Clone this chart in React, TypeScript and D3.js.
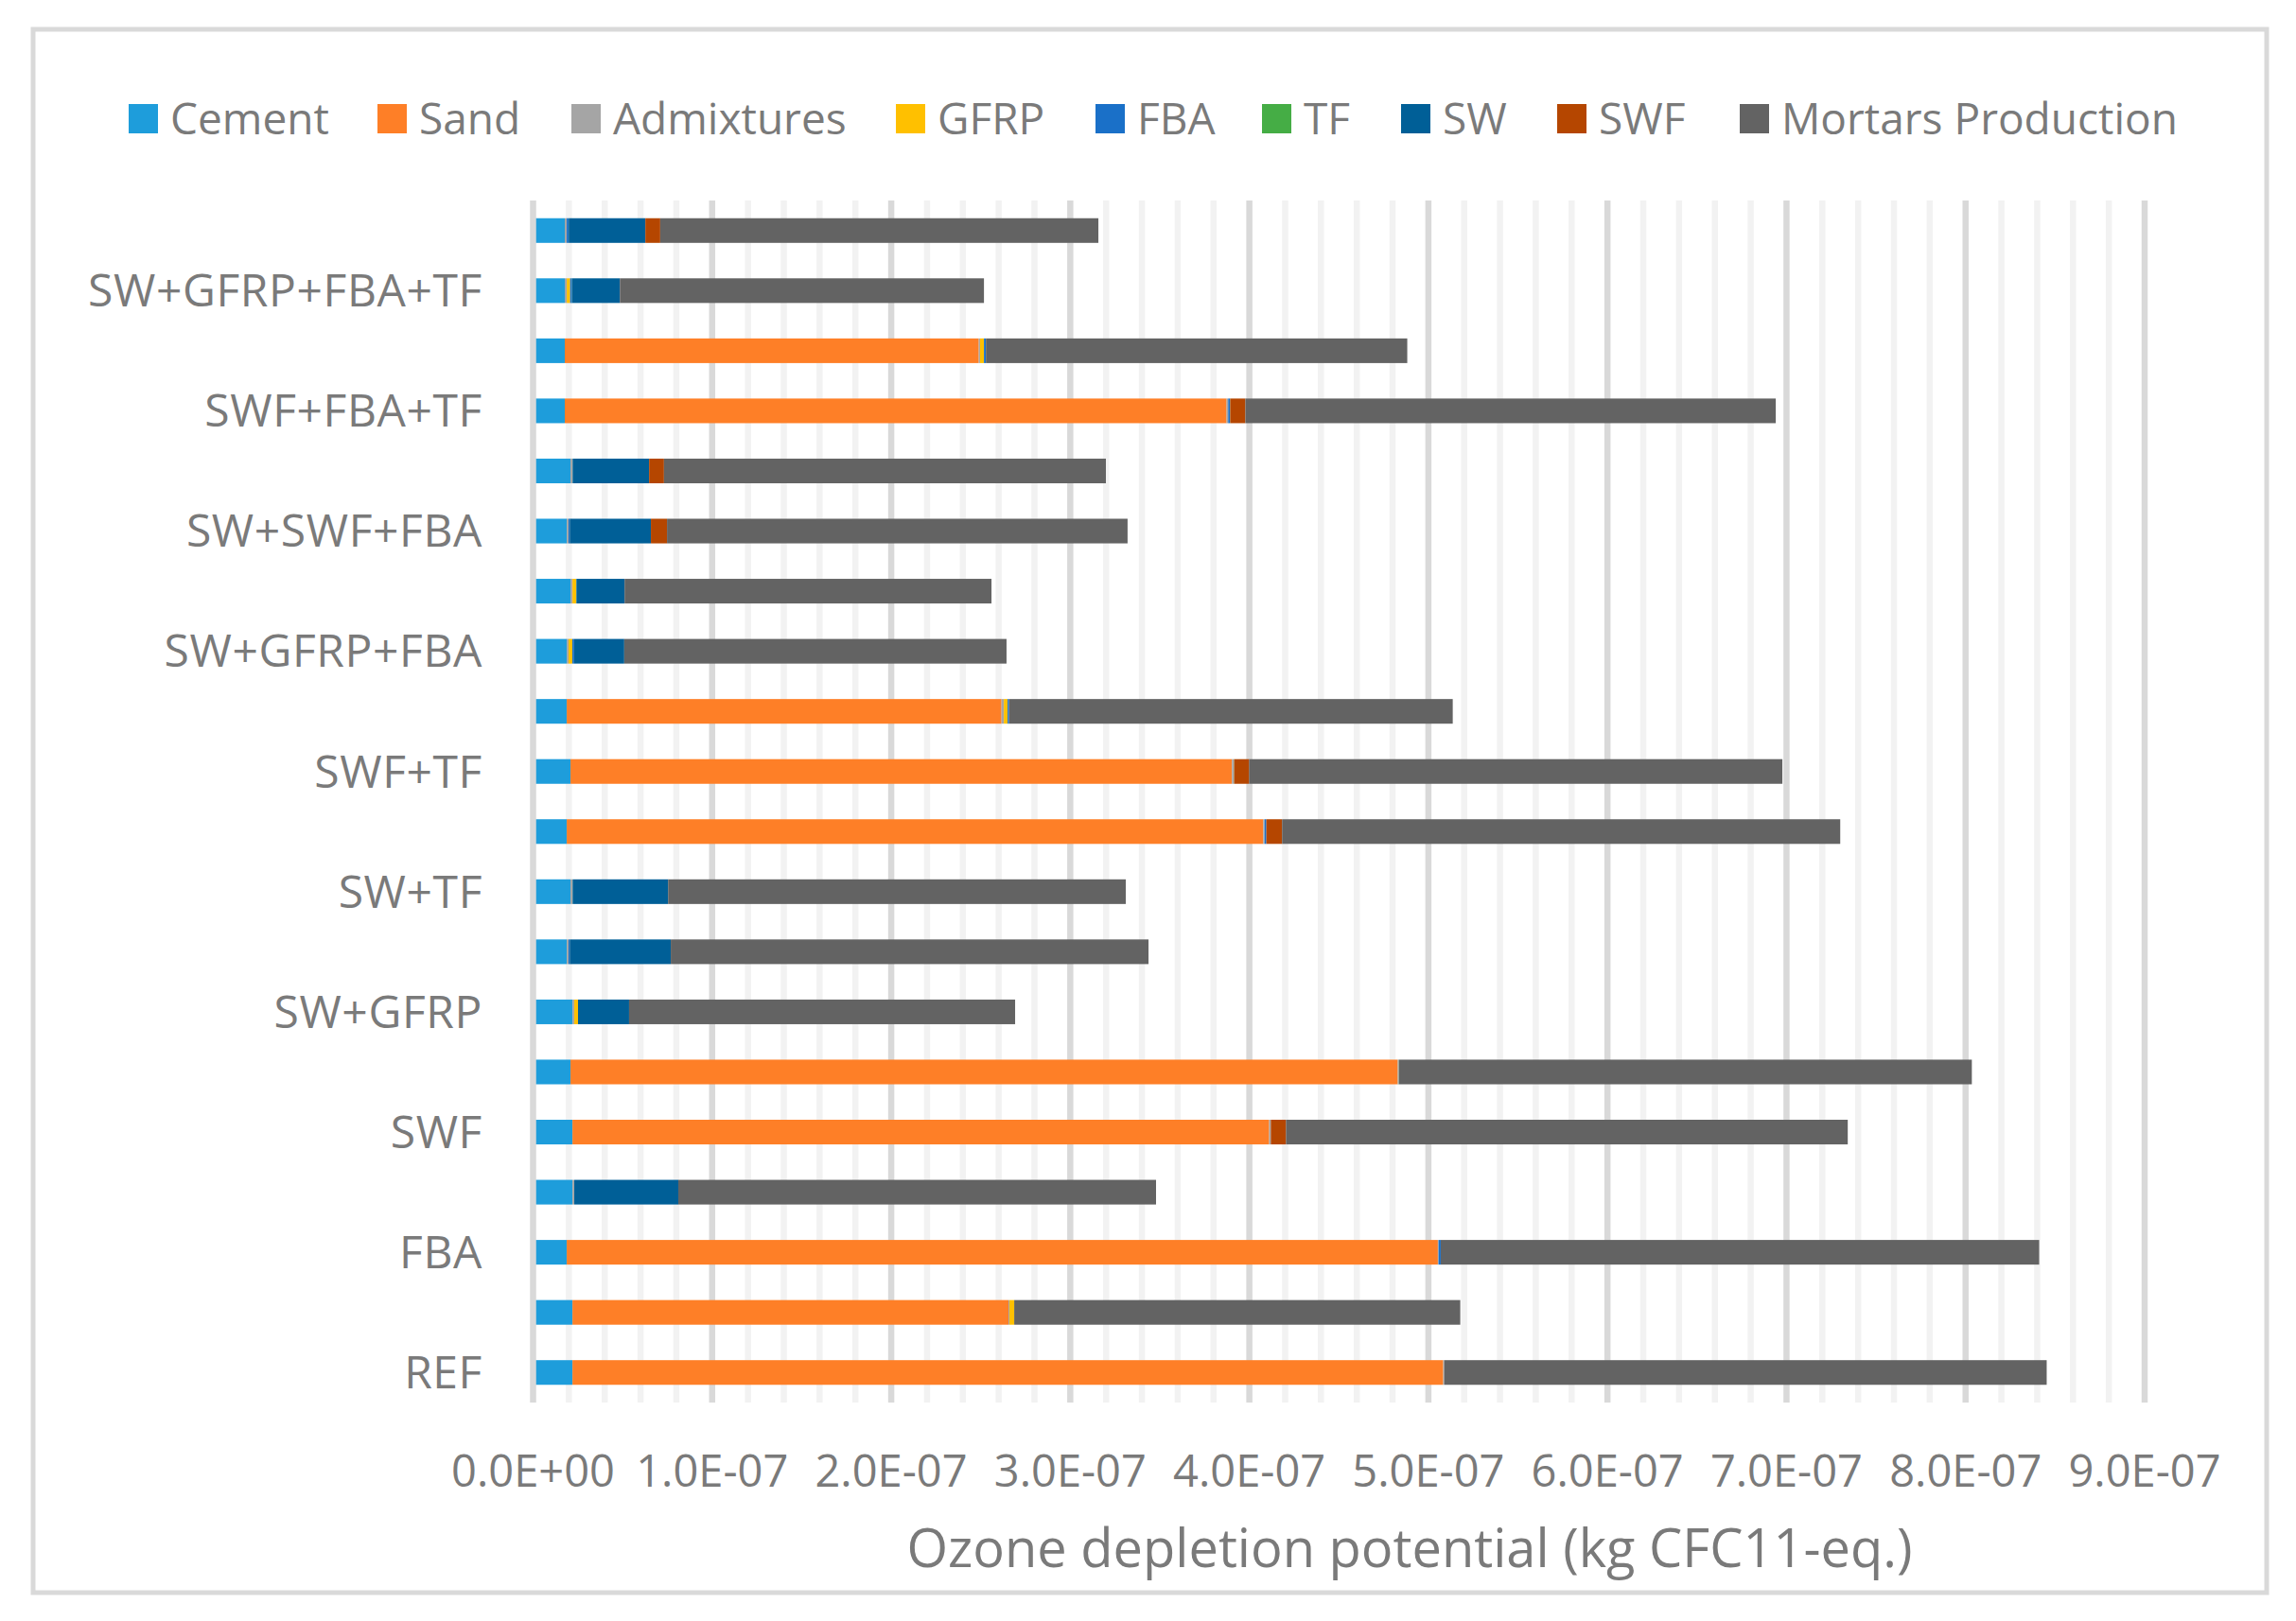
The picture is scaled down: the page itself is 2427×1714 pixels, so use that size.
import React from 'react';
import * as d3 from 'd3';

// values are read in units of 1E-07 kg CFC11-eq., bottom bar first
const UNIT = 1e-7;

const categories = [
  'REF', 'GFRP', 'FBA', 'SW', 'SWF', 'TF', 'SW+GFRP', 'SW+FBA', 'SW+TF', 'SWF+FBA',
  'SWF+TF', 'GFRP+FBA', 'SW+GFRP+FBA', 'SW+GFRP+TF', 'SW+SWF+FBA', 'SW+SWF+TF',
  'SWF+FBA+TF', 'GFRP+FBA+TF', 'SW+GFRP+FBA+TF', 'SW+SWF+FBA+TF',
];

const cement = [0.220, 0.220, 0.188, 0.220, 0.220, 0.209, 0.220, 0.188, 0.209, 0.188, 0.209, 0.188, 0.188, 0.209, 0.188, 0.209, 0.177, 0.177, 0.177, 0.177];
const sand = [4.863, 2.435, 4.865, 0, 3.891, 4.620, 0, 0, 0, 3.890, 3.694, 2.428, 0, 0, 0, 0, 3.696, 2.312, 0, 0];
const admixtures = [0.005, 0.005, 0.004, 0.010, 0.009, 0.005, 0.010, 0.010, 0.011, 0.007, 0.011, 0.013, 0.010, 0.011, 0.010, 0.011, 0.009, 0.007, 0.011, 0.011];
const gfrp = [0, 0.027, 0, 0, 0, 0, 0.021, 0, 0, 0, 0, 0.021, 0.021, 0.021, 0, 0, 0, 0.022, 0.019, 0];
const fba = [0, 0, 0.012, 0, 0, 0, 0, 0.007, 0, 0.010, 0, 0.008, 0.010, 0, 0.007, 0, 0.010, 0.010, 0.009, 0.010];
const tf = [0, 0, 0, 0, 0, 0.001, 0, 0, 0.001, 0, 0.001, 0, 0, 0.001, 0, 0.001, 0.001, 0.001, 0.001, 0.001];
const sw = [0, 0, 0, 0.581, 0, 0, 0.285, 0.564, 0.533, 0, 0, 0, 0.280, 0.269, 0.453, 0.427, 0, 0, 0.268, 0.428];
const swf = [0, 0, 0, 0, 0.085, 0, 0, 0, 0, 0.088, 0.084, 0, 0, 0, 0.090, 0.083, 0.085, 0, 0, 0.083];
const mortars = [3.365, 2.491, 3.342, 2.668, 3.137, 3.200, 2.156, 2.668, 2.556, 3.117, 2.978, 2.478, 2.135, 2.049, 2.572, 2.468, 2.962, 2.353, 2.033, 2.447];

const seriesNames = ['Cement', 'Sand', 'Admixtures', 'GFRP', 'FBA', 'TF', 'SW', 'SWF', 'Mortars Production'];
const seriesValues = [cement, sand, admixtures, gfrp, fba, tf, sw, swf, mortars];
const seriesColors = ['#1e9ddb', '#fe7f27', '#a5a5a5', '#ffc000', '#1a70c8', '#45ad45', '#005f97', '#b54600', '#636363'];

const xTicks = [0, 1, 2, 3, 4, 5, 6, 7, 8, 9];

const legendX = [136, 399, 604, 947, 1158, 1334, 1481, 1646, 1839];

const W = 2427;
const H = 1714;
const plot = { left: 563.5, right: 2267, top: 212, bottom: 1483 };
const FONT = '"Open Sans", "Noto Sans", sans-serif';
const TEXT = '#7a7a7a';

const fmtExp = (v: number) => {
  const [m, e] = v.toExponential(1).split('e');
  const sign = e.startsWith('-') ? '-' : '+';
  const n = Math.abs(parseInt(e, 10)).toString().padStart(2, '0');
  return `${m}E${sign}${n}`;
};

const App: React.FC = () => {
  const rows = categories.map((c, i) => {
    const r: { [k: string]: any } = { category: c };
    seriesNames.forEach((s, j) => { r[s] = seriesValues[j][i] * UNIT; });
    return r;
  });

  const stacked = d3.stack<any>().keys(seriesNames)(rows);

  const x = d3.scaleLinear().domain([0, 9 * UNIT]).range([plot.left, plot.right]);
  const y = d3.scaleBand<string>()
    .domain([...categories].reverse())
    .range([plot.top, plot.bottom])
    .paddingInner(0.59)
    .paddingOuter(0.295);

  const minor = d3.range(0, 45).map(i => i * 0.2 * UNIT).filter((_, i) => i % 5 !== 0);
  const major = xTicks.slice(1).map(t => t * UNIT);

  return (
    <svg width={W} height={H} style={{ position: 'absolute', left: 0, top: 0, display: 'block' }}
      fontFamily={FONT}>
      <rect x={0} y={0} width={W} height={H} fill="#fff" />
      <rect x={35} y={31} width={2361} height={1653} fill="#fff" stroke="#d9d9d9" strokeWidth={5} />

      {/* legend */}
      <g>
        {seriesNames.map((s, i) => (
          <g key={s} transform={`translate(${legendX[i]},110)`}>
            <rect width={31} height={31} fill={seriesColors[i]} />
            <text x={44} y={15.5} dy="0.35em" fontSize={46} fill={TEXT}>{s}</text>
          </g>
        ))}
      </g>

      {/* gridlines */}
      <g>
        {minor.map(v => (
          <line key={'m' + v} x1={x(v)} x2={x(v)} y1={plot.top} y2={plot.bottom} stroke="#f2f2f2" strokeWidth={6.5} />
        ))}
        {major.map(v => (
          <line key={'M' + v} x1={x(v)} x2={x(v)} y1={plot.top} y2={plot.bottom} stroke="#d9d9d9" strokeWidth={6.5} />
        ))}
      </g>

      {/* stacked bars */}
      <g>
        {stacked.map((layer, j) => (
          <g key={layer.key} fill={seriesColors[j]}>
            {layer.map((d, i) => (
              <rect key={i}
                x={x(d[0])}
                y={y(categories[i])}
                width={Math.max(0, x(d[1]) - x(d[0]))}
                height={y.bandwidth()} />
            ))}
          </g>
        ))}
      </g>

      {/* vertical axis line */}
      <line x1={x(0)} x2={x(0)} y1={plot.top} y2={plot.bottom} stroke="#d9d9d9" strokeWidth={6.5} />

      {/* category labels, every second one as in the source */}
      <g fontSize={48} fill={TEXT} textAnchor="end">
        {categories.map((c, i) => i % 2 === 0 ? (
          <text key={c} x={510} y={(y(c) || 0) + y.bandwidth() / 2} dy="0.35em" letterSpacing={0.6}>{c}</text>
        ) : null)}
      </g>

      {/* value axis labels */}
      <g fontSize={47} fill={TEXT} textAnchor="middle">
        {xTicks.map(t => (
          <text key={t} x={x(t * UNIT)} y={1572}>{fmtExp(t * UNIT)}</text>
        ))}
      </g>

      <text x={1490} y={1657} fontSize={56} fill={TEXT} textAnchor="middle">
        Ozone depletion potential (kg CFC11-eq.)
      </text>
    </svg>
  );
};

export default App;
